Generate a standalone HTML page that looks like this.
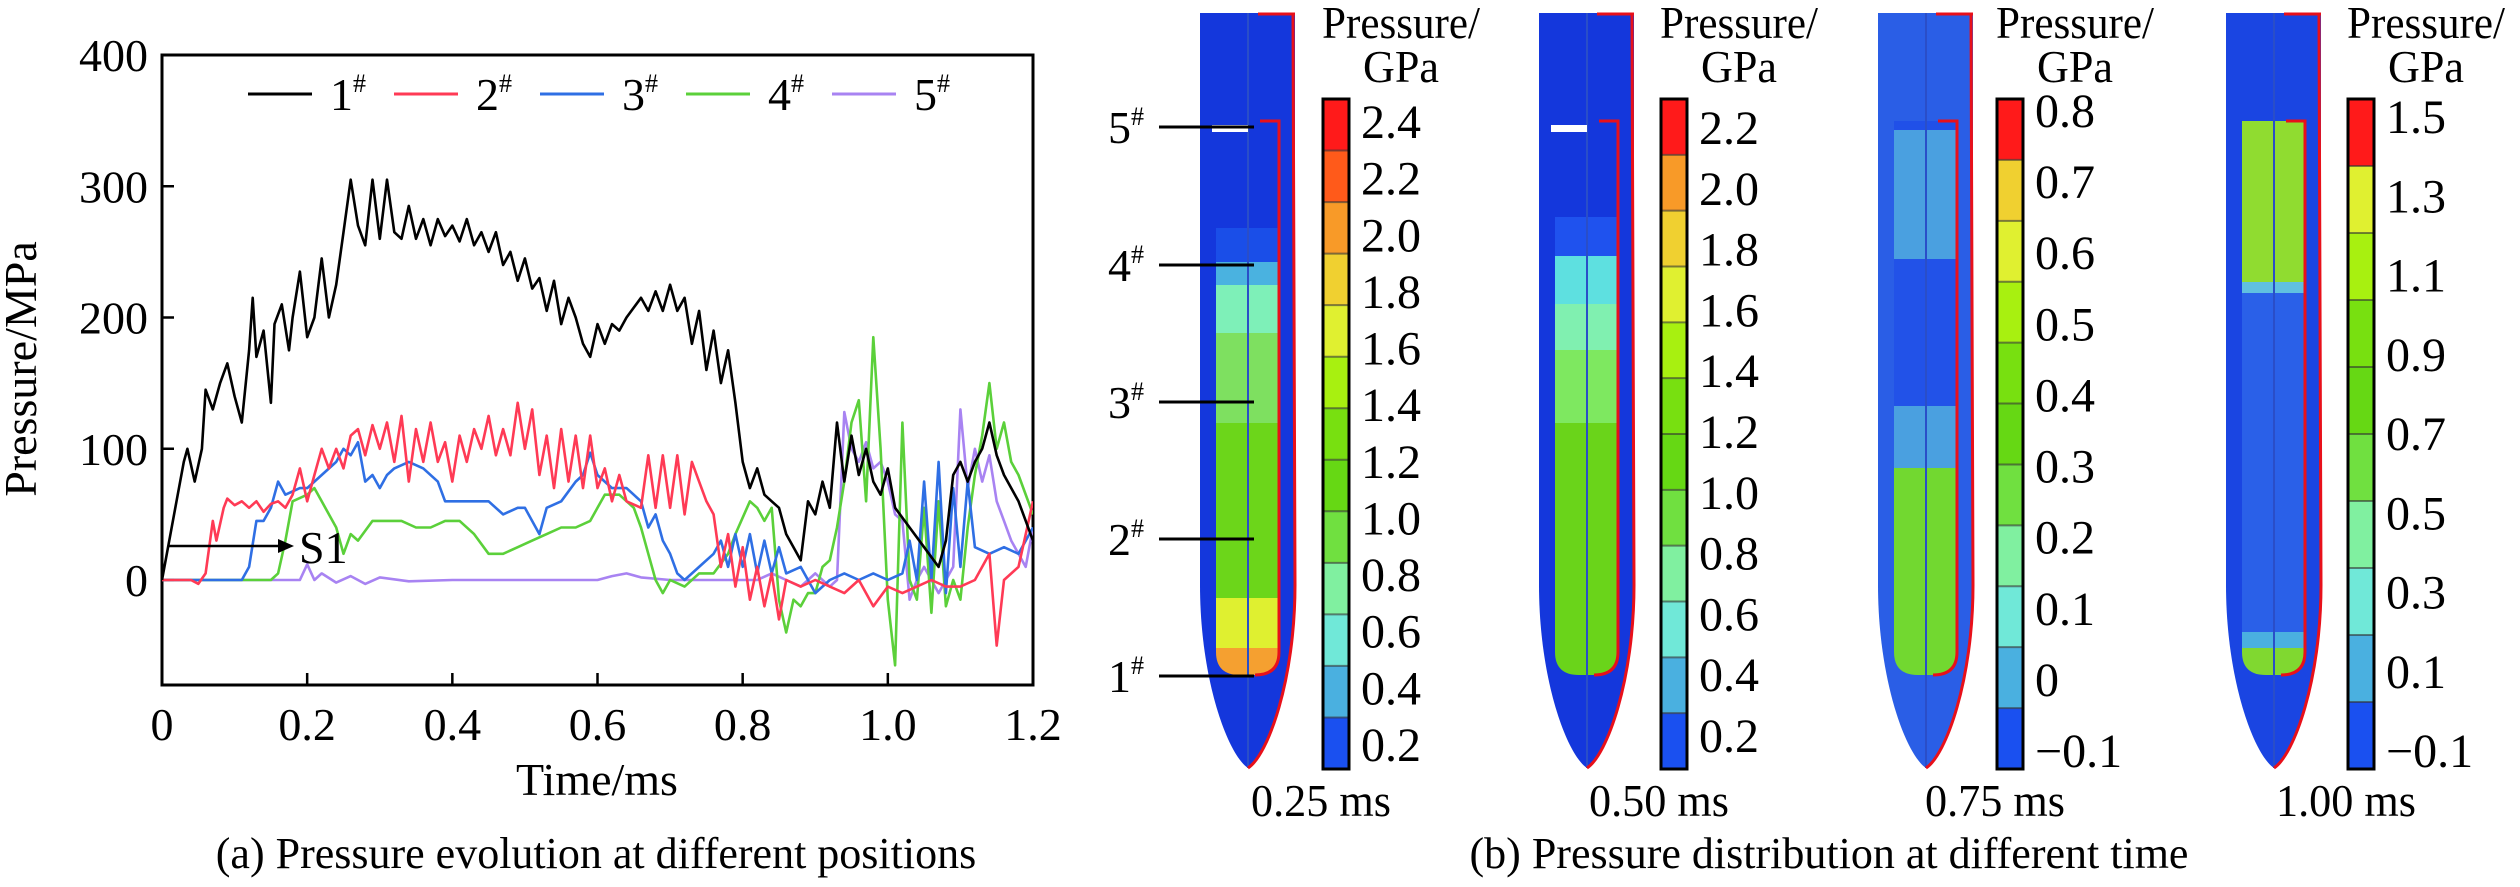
<!DOCTYPE html>
<html><head><meta charset="utf-8"><style>
html,body{margin:0;padding:0;background:#fff;}
svg, svg text{font-family:"Liberation Serif","Times New Roman",serif;}
</style></head><body>
<svg id="fig" width="2520" height="882" viewBox="0 0 2520 882" xmlns="http://www.w3.org/2000/svg" font-family="Liberation Serif, serif">
<g id="chartA"></g>
<g id="panelB"></g>
</svg>
<script>
// ---------- Chart (a) data ----------
const xTicks = [0, 0.2, 0.4, 0.6, 0.8, 1.0, 1.2];
const xTickLabels = ["0", "0.2", "0.4", "0.6", "0.8", "1.0", "1.2"];
const yTicks = [0, 100, 200, 300, 400];
const seriesNames = ["1", "2", "3", "4", "5"];
const seriesColors = ["#000000", "#ff3a55", "#2f6fe4", "#5bd03a", "#a883f2"];
const t1 = [0,0.02,0.03,0.035,0.045,0.055,0.06,0.07,0.08,0.09,0.1,0.11,0.12,0.125,0.13,0.14,0.15,0.155,0.165,0.175,0.18,0.19,0.2,0.21,0.22,0.23,0.24,0.25,0.26,0.27,0.28,0.29,0.3,0.31,0.32,0.33,0.34,0.35,0.36,0.37,0.38,0.39,0.4,0.41,0.42,0.43,0.44,0.45,0.46,0.47,0.48,0.49,0.5,0.51,0.52,0.53,0.54,0.55,0.56,0.57,0.58,0.59,0.6,0.61,0.62,0.63,0.64,0.66,0.67,0.68,0.69,0.7,0.71,0.72,0.73,0.74,0.75,0.76,0.77,0.78,0.79,0.8,0.81,0.82,0.83,0.84,0.85,0.86,0.87,0.88,0.89,0.9,0.91,0.92,0.93,0.94,0.95,0.96,0.97,0.98,0.99,1.0,1.01,1.03,1.05,1.07,1.08,1.09,1.1,1.11,1.12,1.13,1.14,1.15,1.16,1.18,1.2];
const v1 = [0,60,90,100,75,100,145,130,150,165,140,120,175,215,170,190,135,195,210,175,200,235,185,200,245,200,225,265,305,270,255,305,260,305,265,260,285,260,275,255,275,262,270,258,275,255,265,250,265,240,250,228,245,222,230,205,228,195,215,200,180,170,195,180,195,190,200,215,205,220,205,225,205,215,180,205,160,190,150,175,135,90,70,85,65,60,55,35,25,15,60,50,75,55,120,75,110,80,100,75,65,85,55,40,25,10,30,80,90,75,90,100,120,95,80,60,30];
const t2 = [0,0.04,0.05,0.06,0.07,0.075,0.085,0.09,0.1,0.11,0.12,0.13,0.14,0.15,0.16,0.17,0.18,0.19,0.2,0.21,0.22,0.23,0.24,0.25,0.26,0.27,0.28,0.29,0.3,0.31,0.32,0.33,0.34,0.35,0.36,0.37,0.38,0.39,0.4,0.41,0.42,0.43,0.44,0.45,0.46,0.47,0.48,0.49,0.5,0.51,0.52,0.53,0.54,0.55,0.56,0.57,0.58,0.59,0.6,0.61,0.62,0.63,0.64,0.66,0.67,0.68,0.69,0.7,0.71,0.72,0.73,0.74,0.75,0.76,0.77,0.78,0.79,0.8,0.81,0.82,0.83,0.84,0.85,0.86,0.88,0.9,0.92,0.94,0.96,0.98,1.0,1.02,1.04,1.06,1.08,1.1,1.12,1.14,1.15,1.16,1.18,1.2];
const v2 = [0,0,-3,5,45,30,55,62,57,60,55,60,52,58,60,55,65,85,60,80,100,85,100,85,110,115,95,118,100,120,90,125,75,115,90,120,90,105,75,110,90,115,100,125,95,115,95,135,100,130,80,110,70,115,75,110,70,110,70,85,60,80,60,55,95,55,95,55,95,50,90,75,60,50,10,35,-5,25,-15,10,-20,5,-30,0,-5,0,-5,-10,0,-20,-5,-10,-5,0,-5,-5,0,20,-50,0,10,60];
const t3 = [0,0.11,0.12,0.13,0.14,0.15,0.16,0.17,0.19,0.2,0.21,0.22,0.24,0.25,0.26,0.27,0.28,0.29,0.3,0.31,0.32,0.34,0.36,0.38,0.39,0.41,0.43,0.45,0.47,0.49,0.5,0.52,0.53,0.55,0.57,0.58,0.59,0.6,0.62,0.64,0.66,0.67,0.68,0.69,0.7,0.71,0.72,0.74,0.76,0.77,0.78,0.79,0.8,0.81,0.82,0.83,0.84,0.85,0.86,0.88,0.9,0.92,0.94,0.96,0.98,1.0,1.02,1.03,1.04,1.05,1.06,1.07,1.08,1.09,1.1,1.11,1.12,1.14,1.16,1.18,1.2];
const v3 = [0,0,10,45,45,55,75,65,70,70,75,80,90,100,95,105,75,80,70,80,85,90,85,75,60,60,60,60,50,55,55,35,55,60,75,80,97,80,70,70,60,40,50,30,20,5,0,10,20,30,10,35,10,35,5,30,5,25,5,10,-10,0,5,0,5,0,5,30,0,75,0,90,-10,70,10,75,25,20,25,20,40];
const t4 = [0,0.15,0.16,0.17,0.18,0.2,0.21,0.22,0.24,0.25,0.26,0.27,0.29,0.31,0.33,0.35,0.37,0.39,0.41,0.43,0.45,0.47,0.49,0.51,0.53,0.55,0.57,0.59,0.6,0.61,0.63,0.65,0.66,0.67,0.68,0.69,0.7,0.72,0.74,0.76,0.78,0.79,0.81,0.82,0.83,0.84,0.85,0.86,0.87,0.88,0.89,0.9,0.91,0.92,0.93,0.94,0.95,0.96,0.97,0.98,0.99,1.0,1.01,1.02,1.03,1.04,1.05,1.06,1.07,1.08,1.09,1.1,1.11,1.12,1.13,1.14,1.15,1.16,1.17,1.18,1.2];
const v4 = [0,0,5,30,60,65,70,60,40,20,35,30,45,45,45,40,40,45,45,35,20,20,25,30,35,40,40,45,55,65,65,55,40,20,0,-10,0,-5,5,5,20,35,60,55,45,55,-15,-40,-15,-20,-10,-10,10,15,40,75,120,137,60,185,100,-15,-65,120,0,-15,55,-25,60,-20,0,-15,40,80,110,150,100,120,90,80,50];
const t5 = [0,0.19,0.2,0.21,0.22,0.24,0.26,0.28,0.3,0.34,0.4,0.5,0.6,0.62,0.64,0.66,0.7,0.8,0.82,0.84,0.86,0.88,0.9,0.92,0.93,0.94,0.95,0.96,0.97,0.98,0.99,1.0,1.01,1.02,1.03,1.04,1.05,1.06,1.07,1.08,1.09,1.1,1.11,1.12,1.13,1.14,1.15,1.16,1.17,1.18,1.19,1.2];
const v5 = [0,0,12,0,5,-2,3,-3,2,-1,0,0,0,3,5,2,0,0,0,5,0,-5,5,-5,0,128,100,90,105,85,90,75,50,45,-15,0,10,0,-10,0,10,130,70,100,75,95,60,45,30,20,10,40];
const seriesT = [t1, t2, t3, t4, t5];
const seriesV = [v1, v2, v3, v4, v5];

// ---------- Panel (b) data ----------
const timeLabels = ["0.25 ms", "0.50 ms", "0.75 ms", "1.00 ms"];
const cbarTicks1 = ["2.4","2.2","2.0","1.8","1.6","1.4","1.2","1.0","0.8","0.6","0.4","0.2"];
const cbarTicks2 = ["2.2","2.0","1.8","1.6","1.4","1.2","1.0","0.8","0.6","0.4","0.2"];
const cbarTicks3 = ["0.8","0.7","0.6","0.5","0.4","0.3","0.2","0.1","0","\u22120.1"];
const cbarTicks4 = ["1.5","1.3","1.1","0.9","0.7","0.5","0.3","0.1","\u22120.1"];
const gaugeLabels = ["5","4","3","2","1"];

const NS = "http://www.w3.org/2000/svg";
const FF = "Liberation Serif, serif";
function mk(tag, attrs, parent){const e=document.createElementNS(NS,tag);for(const k in attrs)e.setAttribute(k,attrs[k]);if(tag==='text')e.setAttribute('font-family',FF);if(parent)parent.appendChild(e);return e;}

// ---------- Draw chart (a) ----------
const A = document.getElementById('chartA');
const PL=162, PR=1033, PT=55, PB=685;
const xS = t => PL + (t-0)/(1.2-0)*(PR-PL);
const yS = v => 580 - v*(580-55)/400;

const frame = mk('rect',{x:PL,y:PT,width:PR-PL,height:PB-PT,fill:'none',stroke:'#000','stroke-width':3},A);



xTicks.forEach((t,i)=>{
  const tk=mk('line',{x1:xS(t),x2:xS(t),y1:PB,y2:PB-12,stroke:'#000','stroke-width':2.5},A);
  
  
  const tx=mk('text',{x:xS(t),y:PB+55,'font-size':46,'text-anchor':'middle'},A);
  tx.textContent=xTickLabels[i];
  
  
});
yTicks.forEach(v=>{
  const tk=mk('line',{x1:PL,x2:PL+12,y1:yS(v),y2:yS(v),stroke:'#000','stroke-width':2.5},A);
  
  
  const tx=mk('text',{x:PL-14,y:yS(v)+16,'font-size':46,'text-anchor':'end'},A);
  tx.textContent=String(v);
  
  
});
const yt=mk('text',{x:0,y:0,'font-size':46,'text-anchor':'middle',transform:'translate(36,369) rotate(-90)'},A);
yt.textContent='Pressure/MPa';


const xt=mk('text',{x:597,y:795,'font-size':46,'text-anchor':'middle'},A);
xt.textContent='Time/ms';


const capA=mk('text',{x:596,y:868,'font-size':44,'text-anchor':'middle'},A);
capA.textContent='(a) Pressure evolution at different positions';



const clip=mk('clipPath',{id:'pc'},A);mk('rect',{x:PL,y:PT,width:PR-PL,height:PB-PT},clip);
const order=[4,3,2,1,0];
order.forEach(s=>{
  const d=seriesT[s].map((t,i)=>(i?'L':'M')+xS(t).toFixed(1)+','+yS(seriesV[s][i]).toFixed(1)).join(' ');
  const p=mk('path',{d:d,fill:'none',stroke:seriesColors[s],'stroke-width':2.6,'stroke-linejoin':'round','clip-path':'url(#pc)'},A);
  
  
});
// legend
seriesNames.forEach((n,i)=>{
  const x0=248+i*146;
  const g=mk('g',{},A);
  
  
  mk('line',{x1:x0,x2:x0+64,y1:94,y2:94,stroke:seriesColors[i],'stroke-width':3},g);
  const tx=mk('text',{x:x0+82,y:110,'font-size':46},g);
  tx.textContent=n;
  const sp=mk('tspan',{dy:-18,'font-size':26},tx);sp.textContent='#';
});
// S1 arrow
const ar=mk('g',{},A);


mk('line',{x1:168,x2:282,y1:546,y2:546,stroke:'#000','stroke-width':2.5},ar);
mk('path',{d:'M294,546 L278,539 L278,553 Z',fill:'#000'},ar);
const s1=mk('text',{x:299,y:563,'font-size':46},ar);s1.textContent='S1';

// ---------- Panel (b) ----------
const B=document.getElementById('panelB');
const tubeX=[1200,1539,1878,2226];
const outerCol=['#1437dc','#1437dc','#2a5ee6','#1a45e2'];
const bands=[
 [[121,228,'#1437dc'],[228,262,'#1a4ee8'],[262,285,'#4ab2e0'],[285,333,'#7ef0b8'],[333,423,'#7ee060'],[423,598,'#6cd61a'],[598,648,'#dff030'],[648,675,'#f5a030']],
 [[121,217,'#1437dc'],[217,256,'#1f52ee'],[256,304,'#5ee0e0'],[304,350,'#80f0b0'],[350,423,'#7ee860'],[423,675,'#6ad41a']],
 [[121,130,'#2050e8'],[130,259,'#4aa0e0'],[259,406,'#2252e8'],[406,468,'#4aa0e0'],[468,675,'#72d830']],
 [[121,282,'#90dc30'],[282,293,'#60c0e0'],[293,632,'#2a60e8'],[632,648,'#4ab0e0'],[648,675,'#80d830']]
];
const cbX=[1323,1661,1997,2348];
const cbTickSets=[cbarTicks1,cbarTicks2,cbarTicks3,cbarTicks4];
const cbFirst=[121,127,110,116], cbLast=[744,735,750,750];
const palette=['#ff1a1a','#ff3a1a','#ff5a1a','#f89a28','#f0d030','#e0f030','#a8f010','#78e010','#66d814','#70e040','#80f0a0','#70e8d8','#4ab0e0','#1a50f0','#0a2ee0'];

for(let k=0;k<4;k++){
  const x0=tubeX[k], w=95, cx=x0+48;
  const g=mk('g',{},B);
  
  
  const outer=`M${x0},13 L${x0+w},13 L${x0+w},585 C${x0+w},680 ${cx+20},755 ${cx},768 C${cx-20},755 ${x0},680 ${x0},585 Z`;
  mk('path',{d:outer,fill:outerCol[k]},g);
  const cid='ic'+k;
  const cp=mk('clipPath',{id:cid},g);
  const ix0=x0+16, ix1=x0+79;
  mk('path',{d:`M${ix0},121 L${ix1},121 L${ix1},652 Q${ix1},675 ${ix1-24},675 L${ix0+24},675 Q${ix0},675 ${ix0},652 Z`},cp);
  bands[k].forEach(b=>{mk('rect',{x:ix0,y:b[0],width:ix1-ix0,height:b[1]-b[0],fill:b[2],'clip-path':`url(#${cid})`},g);});
  mk('line',{x1:cx,x2:cx,y1:13,y2:768,stroke:'#2a4ec8','stroke-width':2},g);
  mk('path',{d:`M${x0+w-2},13 L${x0+w},585 C${x0+w},680 ${cx+20},755 ${cx},768`,fill:'none',stroke:'#e8101a','stroke-width':3},g);
  mk('path',{d:`M${cx+12},121 L${ix1},121 L${ix1},652 Q${ix1},675 ${ix1-24},675`,fill:'none',stroke:'#e8101a','stroke-width':3},g);
  mk('line',{x1:cx+10,x2:x0+w,y1:14,y2:14,stroke:'#e8101a','stroke-width':3},g);
  if(k<2){mk('rect',{x:ix0-4,y:125,width:cx-ix0+4,height:7,fill:'#ffffff'},g);}
  // colorbar
  const cb=mk('g',{},B);
  
  
  const cx0=cbX[k], cy0=99, cy1=769, cw=26;
  const ticks=cbTickSets[k];
  const n=ticks.length+1;
  const cols=palette.slice(palette.length-n-1,palette.length-1);
  cols[0]='#ff1a1a';
  for(let j=0;j<n;j++){
    const ya=cy0+(cy1-cy0)*j/n, yb=cy0+(cy1-cy0)*(j+1)/n;
    mk('rect',{x:cx0,y:ya,width:cw,height:yb-ya,fill:cols[Math.min(j,cols.length-1)]},cb);
    if(j>0) mk('line',{x1:cx0,x2:cx0+cw,y1:ya,y2:ya,stroke:'#333','stroke-width':2,opacity:0.6},cb);
  }
  mk('rect',{x:cx0,y:cy0,width:cw,height:cy1-cy0,fill:'none',stroke:'#000','stroke-width':3},cb);
  ticks.forEach((t,j)=>{
    const y=cbFirst[k]+(cbLast[k]-cbFirst[k])*j/(ticks.length-1);
    const tx=mk('text',{x:cx0+38,y:y+17,'font-size':48},cb);
    tx.textContent=t;
    
    
  });
  const t1e=mk('text',{x:cx0+78,y:38,'font-size':46,'text-anchor':'middle',textLength:158,lengthAdjust:'spacingAndGlyphs'},cb);
  t1e.textContent='Pressure/';
  
  
  const t2e=mk('text',{x:cx0+78,y:82,'font-size':46,'text-anchor':'middle',textLength:76,lengthAdjust:'spacingAndGlyphs'},cb);
  t2e.textContent='GPa';
  
  
  const tl=mk('text',{x:cx0-2,y:816,'font-size':46,'text-anchor':'middle',textLength:140,lengthAdjust:'spacingAndGlyphs'},B);
  tl.textContent=timeLabels[k];
  
  
}
// gauge markers
const gaugeY=[127,265,402,539,676];
gaugeLabels.forEach((n,i)=>{
  const g=mk('g',{},B);
  
  
  mk('line',{x1:1159,x2:1254,y1:gaugeY[i],y2:gaugeY[i],stroke:'#000','stroke-width':3},g);
  const tx=mk('text',{x:1108,y:gaugeY[i]+16,'font-size':46},g);
  tx.textContent=n;
  const sp=mk('tspan',{dy:-18,'font-size':26},tx);sp.textContent='#';
});
const capB=mk('text',{x:1829,y:868,'font-size':44,'text-anchor':'middle'},B);
capB.textContent='(b) Pressure distribution at different time';


</script>
</body></html>
